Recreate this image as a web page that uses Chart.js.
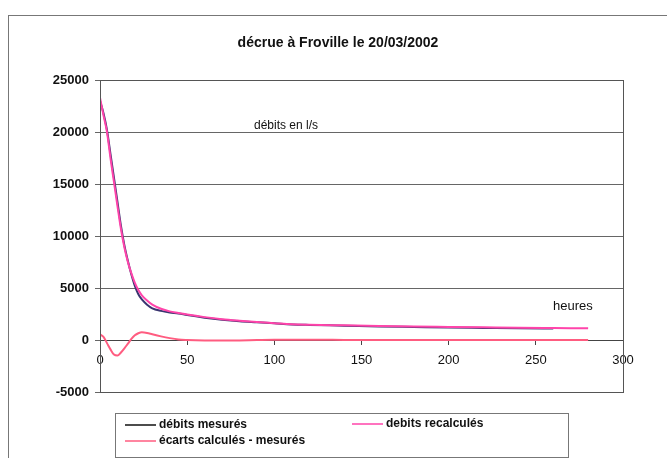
<!DOCTYPE html>
<html>
<head>
<meta charset="utf-8">
<style>
  html, body { margin: 0; padding: 0; background: #fff; }
  #wrap { width: 667px; height: 458px; }
</style>
<script src="https://cdn.jsdelivr.net/npm/chart.js@4/dist/chart.umd.min.js"></script>
</head>
<body>
<div id="wrap"><canvas id="decrue" width="667" height="458"></canvas></div>
<script>
const ctx = document.getElementById('decrue');

// heures
const heures = [0, 2, 4, 6, 8, 10, 12, 14, 16, 18, 20, 22, 24, 27, 30, 35, 40, 45, 50,
  60, 70, 80, 90, 100, 110, 120, 140, 160, 180, 200, 220, 240, 260, 280];
// débits en l/s
const debitsMesures = [23000, 21800, 20200, 17900, 15600, 13300, 11000, 9100, 7600, 6300, 5200, 4400, 3900, 3400, 3050, 2800, 2650, 2550, 2400,
  2150, 1950, 1800, 1700, 1600, 1500, 1450, 1380, 1300, 1250, 1200, 1160, 1120, 1100];
const debitsRecalcules = [23300, 21600, 20000, 17500, 15200, 12900, 10700, 8900, 7500, 6400, 5500, 4800, 4300, 3800, 3400, 3000, 2750, 2600, 2450,
  2200, 2000, 1850, 1720, 1620, 1520, 1470, 1410, 1350, 1300, 1260, 1220, 1180, 1150, 1120];
const ecarts = [550, 300, -300, -900, -1400, -1500, -1200, -800, -350, 100, 450, 650, 740, 680, 550, 350, 180, 50, 0,
  -50, -60, -40, 0, 30, 30, 20, 10, 0, -10, 0, 10, 0, 0, 0];
const yTicks = [-5000, 0, 5000, 10000, 15000, 20000, 25000];

function points(vals) {
  return vals.map((v, i) => ({ x: heures[i], y: v }));
}

// cadre, titre, textes et légende dessinés à la main (style Excel)
const decor = {
  id: 'decor',
  beforeDraw(chart) {
    const c = chart.ctx;
    c.save();
    c.fillStyle = '#fff';
    c.fillRect(0, 0, chart.width, chart.height);
    c.strokeStyle = '#777';
    c.lineWidth = 1;
    c.strokeRect(8.5, 15.5, 700, 500);
    c.restore();
  },
  afterDraw(chart) {
    const c = chart.ctx;
    const a = chart.chartArea;
    c.save();
    // bord de la zone de traçage
    c.strokeStyle = '#555';
    c.lineWidth = 1;
    c.strokeRect(Math.round(a.left) + 0.5, Math.round(a.top) + 0.5, Math.round(a.right - a.left), Math.round(a.bottom - a.top));

    c.fillStyle = '#111';
    c.textBaseline = 'middle';
    c.textAlign = 'center';
    c.font = 'bold 14px "Liberation Sans", Arial, sans-serif';
    c.fillText('décrue à Froville le 20/03/2002', 338, 43);

    c.textAlign = 'left';
    c.font = '12px "Liberation Sans", Arial, sans-serif';
    c.fillText('débits en l/s', 254, 126);
    c.font = '13px "Liberation Sans", Arial, sans-serif';
    c.fillText('heures', 553, 306);

    // légende
    c.strokeStyle = '#777';
    c.strokeRect(115.5, 413.5, 453, 44);
    const pos = [[125, 425], [352, 424], [125, 441]];
    c.font = 'bold 12px "Liberation Sans", Arial, sans-serif';
    chart.data.datasets.forEach((ds, i) => {
      const [x, y] = pos[i];
      c.strokeStyle = ds.legendColor || ds.borderColor;
      c.lineWidth = 1.5;
      c.beginPath();
      c.moveTo(x, y);
      c.lineTo(x + 31, y);
      c.stroke();
      c.fillStyle = '#111';
      c.fillText(ds.label, x + 34, y);
    });
    c.restore();
  }
};

new Chart(ctx, {
  type: 'line',
  data: {
    datasets: [{
      label: 'débits mesurés',
      data: points(debitsMesures),
      borderColor: '#3a3470',
      legendColor: '#111',
      borderWidth: 2,
      pointRadius: 0,
      order: 2,
      cubicInterpolationMode: 'monotone'
    }, {
      label: 'debits recalculés',
      data: points(debitsRecalcules),
      borderColor: '#ff44aa',
      borderWidth: 2,
      pointRadius: 0,
      order: 1,
      cubicInterpolationMode: 'monotone'
    }, {
      label: 'écarts calculés - mesurés',
      data: points(ecarts),
      borderColor: '#ff5c80',
      borderWidth: 2,
      pointRadius: 0,
      order: 0,
      cubicInterpolationMode: 'monotone'
    }]
  },
  options: {
    responsive: false,
    animation: false,
    layout: { padding: { left: 8, right: 44, top: 80, bottom: 66 } },
    plugins: {
      legend: { display: false },
      title: { display: false },
      tooltip: { enabled: false }
    },
    scales: {
      x: {
        type: 'linear',
        min: 0,
        max: 300,
        position: { y: 0 },
        border: { color: '#444', width: 1 },
        grid: { drawOnChartArea: false, drawTicks: true, tickLength: 4, color: '#444' },
        ticks: {
          stepSize: 50,
          color: '#111',
          padding: 9,
          callback: v => String(v),
          font: { family: '"Liberation Sans", Arial, sans-serif', size: 13 }
        }
      },
      y: {
        min: -5000,
        max: 25000,
        afterFit: s => { s.width = 92; },
        afterBuildTicks: s => { s.ticks = yTicks.map(v => ({ value: v })); },
        border: { color: '#444', width: 1 },
        grid: { color: '#666', tickLength: 5 },
        ticks: {
          color: '#111',
          padding: 6,
          callback: v => String(v),
          font: { family: '"Liberation Sans", Arial, sans-serif', size: 13, weight: 'bold' }
        }
      }
    }
  },
  plugins: [decor]
});
</script>
</body>
</html>
